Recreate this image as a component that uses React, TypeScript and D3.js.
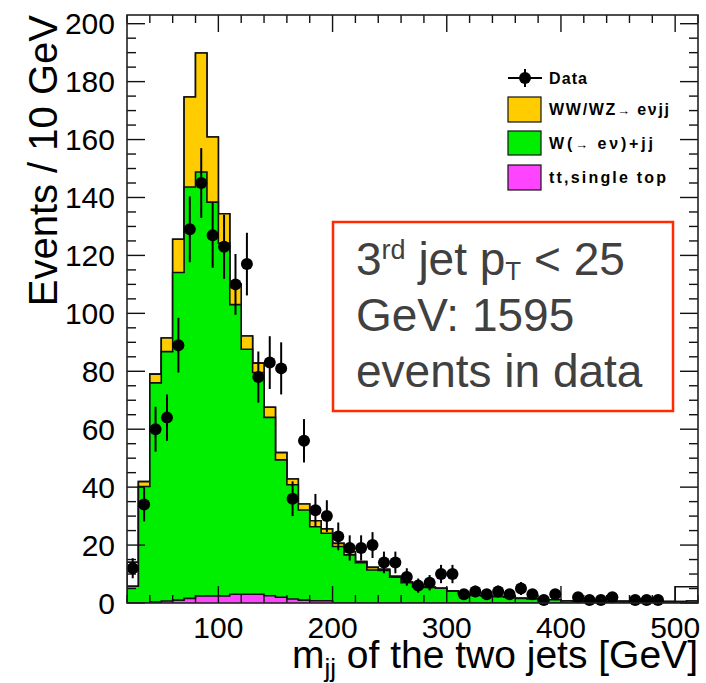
import React from 'react';
import * as d3 from 'd3';

// bin lower edges (GeV), 10 GeV bins
const binLow = [20, 30, 40, 50, 60, 70, 80, 90, 100, 110, 120, 130, 140, 150, 160, 170, 180, 190, 200, 210, 220, 230, 240, 250, 260, 270, 280, 290, 300, 310, 320, 330, 340, 350, 360, 370, 380, 390, 400, 410, 420, 430, 440, 450, 460, 470, 480, 490, 500, 510];
const binWidth = 10;

// observed data
const dataCounts = [12, 34, 60, 64, 89, 129, 145, 127, 123, 110, 117, 78, 83, 81, 36, 56, 32, 30, 23, 19, 19, 20, 14, 14, 9, 6, 7, 10, 10, 3, 4, 3, 4, 3, 5, 3, 1, 3, 0, 2, 1, 1, 2, 0, 1, 1, 1, 0, 0, 0];

// tt, single top (bottom of stack)
const topQuark = [0, 0, 0.3, 0.7, 1.0, 1.6, 2.4, 2.4, 2.4, 3.0, 3.0, 3.0, 2.5, 2.0, 1.4, 1.0, 0.8, 0.8, 0, 0, 0, 0, 0, 0, 0, 0, 0, 0, 0, 0, 0, 0, 0, 0, 0, 0, 0, 0, 0, 0, 0, 0, 0, 0, 0, 0, 0, 0, 0, 0];

// W(-> e nu)+jj
const wJets = [5.8, 40.2, 75.7, 86.1, 113.1, 142.0, 146.4, 136.0, 121.8, 100.0, 84.6, 76.6, 61.6, 47.4, 39.4, 31.1, 25.5, 23.3, 19.5, 16.6, 13.9, 11.4, 11.2, 8.9, 7.0, 5.6, 5.4, 5.1, 4.1, 3.3, 2.6, 2.4, 2.2, 2.0, 1.6, 1.4, 1.1, 1.1, 0.7, 0.6, 0.5, 0.5, 0.5, 0.6, 0.4, 0.4, 0.4, 0.5, 0.5, 0.7];

// WW/WZ -> e nu jj
const diboson = [0, 1.7, 3.0, 4.7, 11.5, 31.1, 41.1, 22.5, 10.2, 7.1, 4.6, 3.2, 3.5, 2.5, 2.0, 2.1, 2.1, 1.5, 1.1, 1.1, 0.4, 0.9, 0.4, 0.3, 0.2, 0.1, 0, 0, 0, 0, 0, 0, 0, 0, 0, 0, 0, 0, 0, 0, 0, 0, 0, 0, 0, 0, 0, 0, 0, 0];

// other (white-filled) component
const otherBkg = [8.3, 0, 0, 0, 0, 0, 0, 0, 0, 0, 0, 0, 0, 0, 0, 0, 0, 0, 0, 0, 0, 0, 0, 0, 0, 0, 0, 0, 0, 0, 0, 0, 0, 0, 0, 0, 0, 0, 0, 0, 0, 0, 0, 0, 0, 0, 0, 0, 5.1, 4.9];

const xTickMajor = [100, 200, 300, 400, 500];
const xTickMinor = [20, 40, 60, 80, 120, 140, 160, 180, 220, 240, 260, 280, 320, 340, 360, 380, 420, 440, 460, 480, 520];
const yTickMajor = [0, 20, 40, 60, 80, 100, 120, 140, 160, 180, 200];
const yTickMinor = [5, 10, 15, 25, 30, 35, 45, 50, 55, 65, 70, 75, 85, 90, 95, 105, 110, 115, 125, 130, 135, 145, 150, 155, 165, 170, 175, 185, 190, 195];

const W = 706;
const H = 683;
const L = 127, R = 698, T = 15, B = 603;
const FONT = "'Liberation Sans', Arial, Helvetica, sans-serif";

export default function App() {
  const x = d3.scaleLinear().domain([20, 520]).range([L, R]);
  const y = d3.scaleLinear().domain([0, 203]).range([B, T]);

  const cum1 = topQuark;
  const cum2 = cum1.map((v, i) => v + wJets[i]);
  const cum3 = cum2.map((v, i) => v + diboson[i]);
  const cum4 = cum3.map((v, i) => v + otherBkg[i]);

  const line = d3
    .line<[number, number]>()
    .x((d) => x(d[0]))
    .y((d) => y(d[1]))
    .curve(d3.curveStepAfter);

  const stepPath = (vals: number[]) => {
    const last = binLow[binLow.length - 1] + binWidth;
    const pts: [number, number][] = [
      [binLow[0], 0],
      ...binLow.map((b, i) => [b, vals[i]] as [number, number]),
      [last, vals[vals.length - 1]],
      [last, 0],
    ];
    return line(pts) as string;
  };

  const layers = [
    { vals: cum4, fill: '#ffffff' },
    { vals: cum3, fill: '#ffcc00' },
    { vals: cum2, fill: '#00ee00' },
    { vals: cum1, fill: '#ff44ff' },
  ];

  return (
    <svg width={W} height={H} style={{ position: 'absolute', left: 0, top: 0, background: '#fff' }} fontFamily={FONT}>
      <defs>
        <clipPath id="plotclip">
          <rect x={L} y={T} width={R - L} height={B - T} />
        </clipPath>
      </defs>
      <rect x={0} y={0} width={W} height={H} fill="#fff" />

      <g clipPath="url(#plotclip)">
        {layers.map((ly, i) => (
          <path key={i} d={stepPath(ly.vals)} fill={ly.fill} stroke="#111" strokeWidth={1.6} />
        ))}
      </g>

      {/* ticks */}
      <g stroke="#111" strokeWidth={1.4}>
        {xTickMajor.map((t) => (
          <g key={'xM' + t}>
            <line x1={x(t)} x2={x(t)} y1={B} y2={B - 17} />
            <line x1={x(t)} x2={x(t)} y1={T} y2={T + 17} />
          </g>
        ))}
        {xTickMinor.map((t) => (
          <g key={'xm' + t}>
            <line x1={x(t)} x2={x(t)} y1={B} y2={B - 8} />
            <line x1={x(t)} x2={x(t)} y1={T} y2={T + 8} />
          </g>
        ))}
        {yTickMajor.map((t) => (
          <g key={'yM' + t}>
            <line x1={L} x2={L + 18} y1={y(t)} y2={y(t)} />
            <line x1={R} x2={R - 18} y1={y(t)} y2={y(t)} />
          </g>
        ))}
        {yTickMinor.map((t) => (
          <g key={'ym' + t}>
            <line x1={L} x2={L + 9} y1={y(t)} y2={y(t)} />
            <line x1={R} x2={R - 9} y1={y(t)} y2={y(t)} />
          </g>
        ))}
      </g>

      {/* data points */}
      <g>
        {dataCounts.map((n, i) => {
          if (n <= 0) return null;
          const cx = x(binLow[i] + binWidth / 2);
          const err = Math.sqrt(n);
          return (
            <g key={'d' + i}>
              <line x1={cx} x2={cx} y1={y(Math.max(0, n - err))} y2={y(n + err)} stroke="#000" strokeWidth={2} />
              <circle cx={cx} cy={y(n)} r={6} fill="#000" />
            </g>
          );
        })}
      </g>

      {/* frame */}
      <rect x={L} y={T} width={R - L} height={B - T} fill="none" stroke="#222" strokeWidth={1.6} />

      {/* tick labels */}
      <g fontSize={30} fill="#000">
        {yTickMajor.map((t) => (
          <text key={'yl' + t} x={115} y={y(t)} dy="0.36em" textAnchor="end">
            {t}
          </text>
        ))}
        {xTickMajor.map((t) => (
          <text key={'xl' + t} x={x(t)} y={638} textAnchor="middle">
            {t}
          </text>
        ))}
      </g>

      {/* axis titles */}
      <text x={698} y={668} fontSize={39} textAnchor="end" fill="#000">
        m<tspan fontSize={26} dy={9}>jj</tspan>
        <tspan dy={-9}> of the two jets [GeV]</tspan>
      </text>
      <text transform="translate(57,15) rotate(-90)" fontSize={40} textAnchor="end" fill="#000">
        Events / 10 GeV
      </text>

      {/* legend */}
      <g fontSize={16} fontWeight="bold" fill="#000">
        <line x1={508} x2={542} y1={78} y2={78} stroke="#000" strokeWidth={2} />
        <line x1={525} x2={525} y1={69} y2={87} stroke="#000" strokeWidth={2} />
        <circle cx={525} cy={78} r={6} fill="#000" />
        <text x={549} y={84} textLength={38} lengthAdjust="spacing">Data</text>

        <rect x={508} y={97} width={33} height={25} fill="#ffcc00" stroke="#111" strokeWidth={1.2} />
        <text x={549} y={115} textLength={120} lengthAdjust="spacing">
          WW/WZ<tspan fontWeight="normal" fontSize={13}>→ </tspan>eνjj
        </text>

        <rect x={508} y={131} width={33} height={24} fill="#00ee00" stroke="#111" strokeWidth={1.2} />
        <text x={549} y={149} textLength={104} lengthAdjust="spacing">
          W(<tspan fontWeight="normal" fontSize={13}>→ </tspan>eν)+jj
        </text>

        <rect x={508} y={165} width={33} height={25} fill="#ff44ff" stroke="#111" strokeWidth={1.2} />
        <text x={549} y={183} textLength={117} lengthAdjust="spacing">tt,single top</text>
      </g>

      {/* annotation box */}
      <rect x={333} y={222} width={340} height={189} fill="#fff" stroke="#ff2a00" strokeWidth={2.5} />
      <g fontSize={46} fill="#404040">
        <text x={356} y={275}>
          3<tspan fontSize={27} dy={-16}>rd</tspan>
          <tspan dy={16}> jet p</tspan>
          <tspan fontSize={26} dy={5}>T</tspan>
          <tspan dy={-5}> &lt; 25</tspan>
        </text>
        <text x={356} y={331}>GeV: 1595</text>
        <text x={356} y={387}>events in data</text>
      </g>
    </svg>
  );
}
